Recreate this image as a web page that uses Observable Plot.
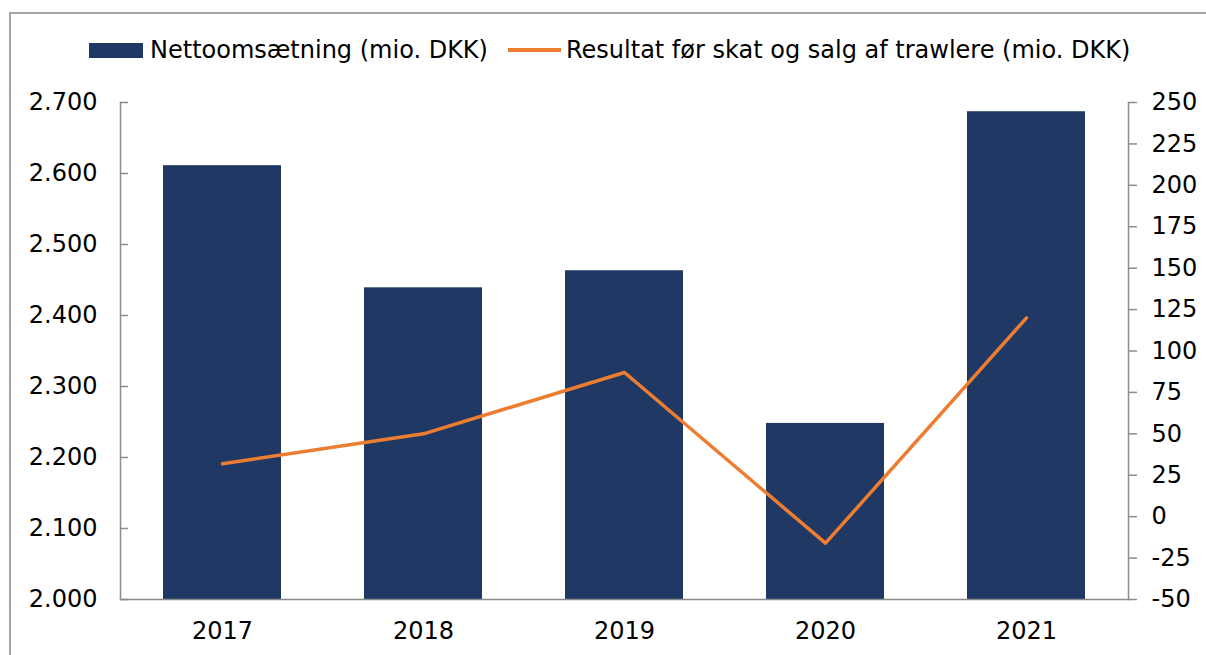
<!DOCTYPE html>
<html>
<head>
<meta charset="utf-8">
<script src="https://cdn.jsdelivr.net/npm/d3@7"></script>
<script src="https://cdn.jsdelivr.net/npm/@observablehq/plot@0.6"></script>
<style>
  html, body { margin: 0; padding: 0; background: #fff; overflow: hidden; width: 1206px; height: 655px; }
  body { position: relative; font-family: "DejaVu Sans", Verdana, sans-serif; }
  #frame { position: absolute; left: 9px; top: 12px; width: 1220px; height: 700px; border: 2px solid #a6a6a6; box-sizing: border-box; pointer-events: none; }
  #legend { height: 70px; position: relative; display: flex; align-items: center; padding-left: 89px; padding-top: 30px; box-sizing: border-box; font-size: 24px; color: #000; }
  .sw-bar { width: 54px; height: 15px; background: #203864; margin-right: 7px; }
  .sw-line { width: 53px; height: 4px; background: #ED7D31; margin-left: 20px; margin-right: 5px; }
  #chart svg { display: block; }
</style>
</head>
<body>
<div id="frame"></div>
<div id="legend">
  <div class="sw-bar"></div><span id="lab1"></span>
  <div class="sw-line"></div><span id="lab2"></span>
</div>
<div id="chart"></div>
<script>
const years = ["2017", "2018", "2019", "2020", "2021"];
const revenue = [2611, 2439, 2463, 2248, 2687];      // Nettoomsætning (mio. DKK)
const result = [32, 50, 87, -16, 120];                // Resultat før skat og salg af trawlere (mio. DKK)
const leftTicks = [2000, 2100, 2200, 2300, 2400, 2500, 2600, 2700];
const rightTicks = [-50, -25, 0, 25, 50, 75, 100, 125, 150, 175, 200, 225, 250];
const seriesNames = ["Nettoomsætning (mio. DKK)", "Resultat før skat og salg af trawlere (mio. DKK)"];

document.getElementById("lab1").textContent = seriesNames[0];
document.getElementById("lab2").textContent = seriesNames[1];

// Map secondary (right) axis values onto the primary y scale
const L0 = 2000, L1 = 2700, R0 = -50, R1 = 250;
const toLeft = v => L0 + (v - R0) * (L1 - L0) / (R1 - R0);
const toRight = v => R0 + (v - L0) * (R1 - R0) / (L1 - L0);

const bars = years.map((y, i) => ({year: y, value: revenue[i]}));
const line = years.map((y, i) => ({year: y, value: toLeft(result[i])}));

const fmt = d => d3.format(",")(d).replace(/,/g, ".");
const axisColor = "#8c8c8c";

const chart = Plot.plot({
  width: 1206,
  height: 585,
  marginTop: 32,
  marginBottom: 56,
  marginLeft: 120,
  marginRight: 78,
  style: {fontFamily: "DejaVu Sans, Verdana, sans-serif", fontSize: "24px", color: "#000", background: "transparent"},
  x: {domain: years, paddingInner: 0.415, paddingOuter: 0.2075, label: null},
  y: {domain: [L0, L1], label: null},
  marks: [
    Plot.barY(bars, {x: "year", y1: L0, y2: "value", fill: "#203864"}),
    Plot.lineY(line, {x: "year", y: "value", stroke: "#ED7D31", strokeWidth: 3.5}),
    Plot.frame({anchor: "left", stroke: axisColor, strokeWidth: 1.5}),
    Plot.frame({anchor: "right", stroke: axisColor, strokeWidth: 1.5}),
    Plot.frame({anchor: "bottom", stroke: axisColor, strokeWidth: 1.5}),
    Plot.axisY({anchor: "left", ticks: leftTicks, tickFormat: fmt, tickSize: 8, dx: 8, tickPadding: 23, stroke: axisColor, strokeWidth: 1.5, fill: "#000", label: null}),
    Plot.axisY({anchor: "right", ticks: rightTicks.map(toLeft), tickFormat: v => String(Math.round(toRight(v))), tickSize: 8, tickPadding: 15, stroke: axisColor, strokeWidth: 1.5, fill: "#000", label: null}),
    Plot.axisX({anchor: "bottom", tickSize: 0, tickPadding: 22, fill: "#000", label: null})
  ]
});
document.getElementById("chart").appendChild(chart);
</script>
</body>
</html>
